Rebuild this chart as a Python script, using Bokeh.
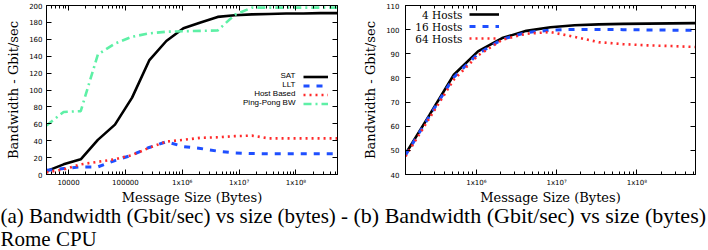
from bokeh.plotting import figure
from bokeh.models import (LogAxis, LinearAxis, FixedTicker, Legend, LegendItem,
                          Label, Range1d)
from bokeh.core.properties import value
from bokeh.layouts import row, column
from bokeh.embed import file_html
from bokeh.resources import INLINE

# ---------------- data: panel (a) ----------------
sizes_a = [4096, 8192, 16384, 32768, 65536, 131072, 262144, 524288, 1048576,
           2097152, 4194304, 8388608, 16777216, 33554432, 67108864, 134217728,
           268435456, 536870912]
sat = [4, 12, 18, 41, 59, 91, 135, 158, 173, 180, 186.5, 188.5, 189.5, 190,
       190.5, 190.5, 191, 191]
llt = [5, 7, 9, 9, 16.5, 23, 32, 38.7, 33, 30.8, 27.6, 25.6, 24.8, 24.5, 24.5,
       24.5, 24.5, 24.5]
host_based = [2.5, 6, 12, 15, 18, 23, 31.6, 39, 41, 43.4, 44, 45.4, 46, 42.7,
              42.7, 42.7, 42.7, 42.7]
ping_pong = [58, 74, 75, 142, 155, 163, 167, 169, 169.5, 170, 170.5, 189,
             197.5, 197.5, 197.5, 197.5, 197.5, 197.5]
series_names_a = ["SAT", "LLT", "Host Based", "Ping-Pong BW"]

# ---------------- data: panel (b) ----------------
sizes_b = [131072, 262144, 524288, 1048576, 2097152, 4194304, 8388608,
           16777216, 33554432, 67108864, 134217728, 268435456, 536870912]
hosts4 = [48.5, 64.8, 81.3, 91, 96.5, 99.5, 101, 101.8, 102.2, 102.4, 102.5,
          102.6, 102.7]
hosts16 = [48, 64.3, 80.3, 90, 96, 98.8, 99.8, 100.1, 100.1, 100, 99.9, 99.8,
           99.7]
hosts64 = [47.5, 63.5, 79.3, 89.3, 95.8, 98.3, 99, 97, 94.8, 94, 93.5, 93.2,
           92.8]
series_names_b = ["4 Hosts", "16 Hosts", "64 Hosts"]

# ---------------- ticks / texts ----------------
x_ticks_a = [10000, 100000, 1000000, 10000000, 100000000]
x_tick_labels_a = ["10000", "100000", "1x10\u2076", "1x10\u2077", "1x10\u2078"]
x_ticks_b = [1000000, 10000000, 100000000]
x_tick_labels_b = ["1x10\u2076", "1x10\u2077", "1x10\u2078"]
y_ticks_a = [0, 20, 40, 60, 80, 100, 120, 140, 160, 180, 200]
y_ticks_b = [40, 50, 60, 70, 80, 90, 100, 110]
minor_x = [m * 10 ** k for k in range(3, 9) for m in range(2, 10)]
x_title = "Message Size (Bytes)"
y_title = "Bandwidth - Gbit/sec"
caption_a = ["(a) Bandwidth (Gbit/sec) vs size (bytes) -", "Rome CPU"]
caption_b = "(b) Bandwidth (Gbit/sec) vs size (bytes)"

BLUE = "#1f4fff"
RED = "#ff2a2a"
GREEN = "#5ef0a6"
SERIF = "DejaVu Serif"
CAPTION_FONT = "Liberation Serif"
PLOT_H = 190
CAP_H = 60


def style_axis(ax, labels=True):
    ax.major_tick_in = 5
    ax.major_tick_out = 0
    ax.minor_tick_in = 3
    ax.minor_tick_out = 0
    ax.axis_line_color = "black"
    ax.major_tick_line_color = "black"
    ax.minor_tick_line_color = "black"
    if labels:
        ax.major_label_text_font = "DejaVu Sans"
        ax.major_label_text_font_size = "7px"
        ax.major_label_text_color = "black"
        ax.axis_label_text_font = SERIF
        ax.axis_label_text_font_size = "13px"
        ax.axis_label_text_font_style = "normal"
        ax.axis_label_text_color = "black"
    else:
        ax.major_label_text_font_size = "1px"
        ax.major_label_text_alpha = 0
        ax.major_label_standoff = 0


def make_fig(x_lo, x_hi, y_lo, y_hi, left, right):
    p = figure(width=354, height=PLOT_H, x_axis_type="log",
               x_range=Range1d(x_lo, x_hi), y_range=Range1d(y_lo, y_hi),
               output_backend="svg", toolbar_location=None,
               min_border_left=left, min_border_right=right,
               min_border_top=5, min_border_bottom=PLOT_H - 174)
    p.xgrid.visible = False
    p.ygrid.visible = False
    p.outline_line_color = "black"
    p.background_fill_color = "white"
    p.border_fill_color = "white"
    return p


def text_label(p, txt, x, y, font, size, align="right"):
    p.add_layout(Label(text=txt, x=x, y=y, x_units="screen", y_units="screen",
                       text_align=align, text_baseline="middle",
                       text_font=font, text_font_size=size,
                       text_color="black"))


def sample_legend(p, renderers, loc, gw, gh):
    leg = Legend(items=[LegendItem(label=value(""), renderers=[r])
                        for r in renderers],
                 location=loc, glyph_width=gw, glyph_height=gh,
                 label_height=gh, label_width=0, label_standoff=0,
                 spacing=0, padding=0, margin=0, border_line_alpha=0,
                 background_fill_alpha=0, label_text_font_size="5px")
    p.add_layout(leg)


def finish_axes(p):
    p.yaxis.axis_label = y_title
    style_axis(p.xaxis[0])
    style_axis(p.yaxis[0])
    p.xaxis.major_label_standoff = 4


# ================= panel (a) =================
pa = make_fig(sizes_a[0], sizes_a[-1], 0, 200, 46, 17)
xt_a = FixedTicker(ticks=x_ticks_a, minor_ticks=minor_x)
yt_a = FixedTicker(ticks=y_ticks_a, minor_ticks=[])
pa.xaxis.ticker = xt_a
pa.xaxis.major_label_overrides = dict(zip([float(t) for t in x_ticks_a], x_tick_labels_a))
pa.yaxis.ticker = yt_a
finish_axes(pa)
pa.yaxis.major_label_standoff = 4
pa.yaxis.axis_label_standoff = 5
top_a = LogAxis(ticker=xt_a)
style_axis(top_a, labels=False)
pa.add_layout(top_a, "above")
right_a = LinearAxis(ticker=yt_a)
style_axis(right_a, labels=False)
pa.add_layout(right_a, "right")

r_sat = pa.line(sizes_a, sat, line_color="black", line_width=2.6)
r_llt = pa.line(sizes_a, llt, line_color=BLUE, line_width=3,
                line_dash="6 7")
r_host = pa.line(sizes_a, host_based, line_color=RED, line_width=2.6,
                 line_dash="2 4")
r_pp = pa.line(sizes_a, ping_pong, line_color=GREEN, line_width=2.6,
               line_dash="8 4 2 4")

# gnuplot-style key: text on the left, sample on the right
sample_legend(pa, [r_sat, r_llt, r_host, r_pp], (257, 66), 25, 9)
for i, name in enumerate(series_names_a):
    text_label(pa, name, 249, 103.5 - 4.5 - 9 * i, "Liberation Sans", "8px")

# ================= panel (b) =================
pb = make_fig(sizes_b[0], sizes_b[-1], 40, 110, 51, 13)
xt_b = FixedTicker(ticks=x_ticks_b, minor_ticks=minor_x)
yt_b = FixedTicker(ticks=y_ticks_b, minor_ticks=[])
pb.xaxis.ticker = xt_b
pb.xaxis.major_label_overrides = dict(zip([float(t) for t in x_ticks_b], x_tick_labels_b))
pb.yaxis.ticker = yt_b
finish_axes(pb)
pb.yaxis.major_label_standoff = 6
pb.yaxis.axis_label_standoff = 5
top_b = LogAxis(ticker=xt_b)
style_axis(top_b, labels=False)
pb.add_layout(top_b, "above")
right_b = LinearAxis(ticker=yt_b)
style_axis(right_b, labels=False)
pb.add_layout(right_b, "right")

r_h4 = pb.line(sizes_b, hosts4, line_color="black", line_width=2.6)
r_h16 = pb.line(sizes_b, hosts16, line_color=BLUE, line_width=3,
                line_dash="6 7")
r_h64 = pb.line(sizes_b, hosts64, line_color=RED, line_width=2.6,
                line_dash="2 4")

sample_legend(pb, [r_h4, r_h16, r_h64], (64, 130), 30, 12)
for i, name in enumerate(series_names_b):
    text_label(pb, name, 57, 166 - 6 - 12 * i, SERIF, "10.5px")

# ====== x-axis titles and captions (strip under both panels) ======
cap = figure(width=708, height=CAP_H, x_range=Range1d(0, 708),
             y_range=Range1d(0, CAP_H), x_axis_location=None,
             y_axis_location=None, output_backend="svg",
             toolbar_location=None, min_border=0)
cap.xgrid.visible = False
cap.ygrid.visible = False
cap.outline_line_color = None
text_label(cap, x_title, 191.5, CAP_H - 7, SERIF, "13px", "center")
text_label(cap, x_title, 550, CAP_H - 7, SERIF, "13px", "center")
text_label(cap, caption_a[0], 0, CAP_H - 25, CAPTION_FONT, "21px", "left")
text_label(cap, caption_a[1], 0, CAP_H - 48, CAPTION_FONT, "21px", "left")
text_label(cap, caption_b, 353, CAP_H - 25, CAPTION_FONT, "22px", "left")

layout = column(row(pa, pb), cap)
open("out.html", "w").write(file_html(layout, INLINE))
